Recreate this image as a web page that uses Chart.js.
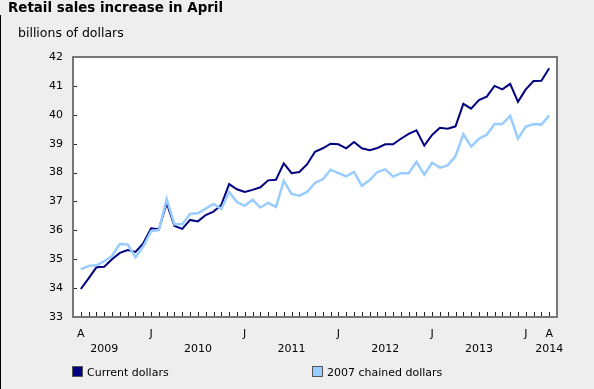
<!DOCTYPE html>
<html>
<head>
<meta charset="utf-8">
<script src="https://cdn.jsdelivr.net/npm/chart.js@4"></script>
<style>
  body { margin: 0; background: #eeeeee; font-family: "DejaVu Sans", Verdana, sans-serif; }
  #wrap { position: relative; width: 594px; height: 389px; overflow: hidden; }
  #frame { position: absolute; left: 0; top: 15px; width: 1px; height: 374px; background: #000; }
  #title { position: absolute; left: 8px; top: 0; font-weight: bold; font-size: 13.4px; line-height: 16px; color: #000; }
  #subtitle { position: absolute; left: 18px; top: 25px; font-size: 12.5px; line-height: 15px; color: #000; }
  .legend { position: absolute; top: 366px; font-size: 11px; line-height: 14px; color: #000; white-space: nowrap; }
  .legend i { display: inline-block; width: 9px; height: 9px; border: 1px solid #555; vertical-align: -1px; margin-right: 4px; }
  canvas { position: absolute; left: 0; top: 0; }
</style>
</head>
<body>
<div id="wrap">
  <canvas id="chart" width="594" height="389"></canvas>
  <div id="frame"></div>
  <div id="title">Retail sales increase in April</div>
  <div id="subtitle">billions of dollars</div>
  <div class="legend" style="left:72px"><i style="background:#000080"></i>Current dollars</div>
  <div class="legend" style="left:312px"><i style="background:#99ccff"></i>2007 chained dollars</div>
</div>
<script>
// ====== Data ======
const categories = [
  "Apr 2009", "May 2009", "Jun 2009", "Jul 2009", "Aug 2009", "Sep 2009", "Oct 2009", "Nov 2009", "Dec 2009",
  "Jan 2010", "Feb 2010", "Mar 2010", "Apr 2010", "May 2010", "Jun 2010", "Jul 2010", "Aug 2010", "Sep 2010", "Oct 2010", "Nov 2010", "Dec 2010",
  "Jan 2011", "Feb 2011", "Mar 2011", "Apr 2011", "May 2011", "Jun 2011", "Jul 2011", "Aug 2011", "Sep 2011", "Oct 2011", "Nov 2011", "Dec 2011",
  "Jan 2012", "Feb 2012", "Mar 2012", "Apr 2012", "May 2012", "Jun 2012", "Jul 2012", "Aug 2012", "Sep 2012", "Oct 2012", "Nov 2012", "Dec 2012",
  "Jan 2013", "Feb 2013", "Mar 2013", "Apr 2013", "May 2013", "Jun 2013", "Jul 2013", "Aug 2013", "Sep 2013", "Oct 2013", "Nov 2013", "Dec 2013",
  "Jan 2014", "Feb 2014", "Mar 2014", "Apr 2014"
];

const currentDollars = [
  33.97, 34.34, 34.72, 34.74, 35.00, 35.22, 35.32, 35.25, 35.55,
  36.07, 36.04, 36.94, 36.15, 36.05, 36.36, 36.31, 36.53, 36.65, 36.88, 37.60, 37.42,
  37.33, 37.40, 37.49, 37.73, 37.75, 38.32, 37.98, 38.02, 38.29, 38.72, 38.84, 39.00,
  38.98, 38.84, 39.06, 38.84, 38.77, 38.85, 38.98, 38.98, 39.17, 39.34, 39.46, 38.93,
  39.30, 39.55, 39.52, 39.60, 40.38, 40.21, 40.51, 40.63, 41.00, 40.88, 41.07, 40.45,
  40.88, 41.17, 41.18, 41.61
];

const chainedDollars = [
  34.65, 34.77, 34.79, 34.93, 35.11, 35.53, 35.51, 35.07, 35.44,
  35.97, 36.01, 37.08, 36.21, 36.21, 36.57, 36.59, 36.75, 36.91, 36.74, 37.33, 36.98,
  36.85, 37.06, 36.79, 36.95, 36.81, 37.71, 37.26, 37.20, 37.33, 37.64, 37.77, 38.10,
  37.98, 37.87, 38.02, 37.54, 37.74, 38.02, 38.11, 37.86, 37.98, 37.98, 38.37, 37.93,
  38.34, 38.17, 38.25, 38.57, 39.33, 38.90, 39.17, 39.31, 39.68, 39.68, 39.96, 39.17,
  39.59, 39.68, 39.66, 39.98
];

// tick labels: month letters and years, by category index
const monthTickIndex = [0, 9, 21, 33, 45, 57, 60];
const monthTickText = ["A", "J", "J", "J", "J", "J", "A"];
const yearTickIndex = [3, 15, 27, 39, 51, 60];
const yearTickText = ["2009", "2010", "2011", "2012", "2013", "2014"];

const yMin = 33;
const yMax = 42;

// ====== Plot background, inner ticks and frame ======
const plotFrame = {
  id: "plotFrame",
  beforeDatasetsDraw(chart) {
    const { ctx, chartArea: a } = chart;
    ctx.save();
    ctx.fillStyle = "#ffffff";
    ctx.fillRect(a.left, a.top, a.right - a.left, a.bottom - a.top);
    ctx.restore();
  },
  afterDatasetsDraw(chart) {
    const { ctx, chartArea: a, scales } = chart;
    ctx.save();
    ctx.strokeStyle = "#222";
    ctx.lineWidth = 1;
    ctx.beginPath();
    scales.x.ticks.forEach(t => {
      const x = Math.round(scales.x.getPixelForValue(t.value)) + 0.5;
      ctx.moveTo(x, a.bottom);
      ctx.lineTo(x, a.bottom - 5);
    });
    scales.y.ticks.forEach(t => {
      const y = Math.round(scales.y.getPixelForValue(t.value)) + 0.5;
      ctx.moveTo(a.left, y);
      ctx.lineTo(a.left + 4, y);
    });
    ctx.stroke();
    ctx.strokeStyle = "#777777";
    ctx.lineWidth = 2;
    ctx.strokeRect(a.left, a.top, a.right - a.left, a.bottom - a.top);
    ctx.restore();
  }
};

const ctx = document.getElementById("chart").getContext("2d");

new Chart(ctx, {
  type: "line",
  data: {
    datasets: [
      {
        label: "2007 chained dollars",
        data: chainedDollars.map((v, i) => ({ x: i, y: v })),
        borderColor: "#99ccff",
        borderWidth: 2.5,
        pointRadius: 0,
        tension: 0
      },
      {
        label: "Current dollars",
        data: currentDollars.map((v, i) => ({ x: i, y: v })),
        borderColor: "#000080",
        borderWidth: 2,
        pointRadius: 0,
        tension: 0
      }
    ]
  },
  options: {
    responsive: false,
    animation: false,
    layout: { padding: { top: 57, right: 37, left: 0, bottom: 0 } },
    plugins: {
      legend: { display: false },
      title: { display: false },
      tooltip: { enabled: false }
    },
    scales: {
      x: {
        type: "linear",
        min: -1,
        max: categories.length,
        grid: { display: false, drawTicks: false },
        border: { display: false },
        afterBuildTicks(scale) {
          scale.ticks = categories.map((c, i) => ({ value: i }));
        },
        afterFit(scale) { scale.height = 72; },
        ticks: {
          autoSkip: false,
          maxRotation: 0,
          padding: 10,
          color: "#000",
          font: { family: "DejaVu Sans", size: 11, lineHeight: 1.36 },
          callback(value) {
            const m = monthTickIndex.indexOf(value);
            const y = yearTickIndex.indexOf(value);
            return [m >= 0 ? monthTickText[m] : "", y >= 0 ? yearTickText[y] : ""];
          }
        }
      },
      y: {
        min: yMin,
        max: yMax,
        grid: { display: false, drawTicks: false },
        border: { display: false },
        afterFit(scale) { scale.width = 73; },
        ticks: {
          stepSize: 1,
          padding: 10,
          color: "#000",
          font: { family: "DejaVu Sans", size: 11 }
        }
      }
    }
  },
  plugins: [plotFrame]
});
</script>
</body>
</html>
